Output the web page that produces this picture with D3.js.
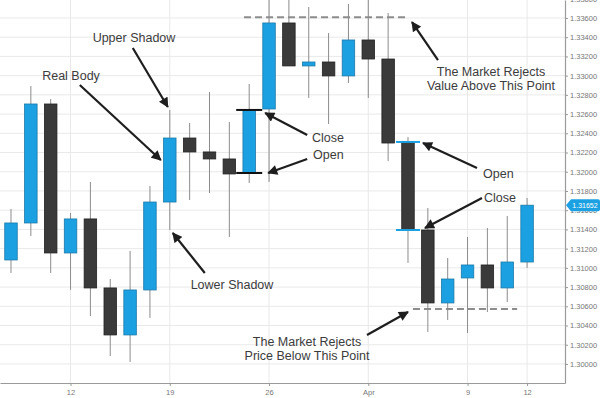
<!DOCTYPE html>
<html>
<head>
<meta charset="utf-8">
<script src="https://cdn.jsdelivr.net/npm/d3@7"></script>
<style>
  html, body { margin: 0; padding: 0; background: #fff; }
  svg { display: block; font-family: Arial, "Liberation Sans", sans-serif; }
</style>
</head>
<body>
<svg id="chart" width="600" height="398"></svg>
<script>
// daily candles, 7 Mar - 12 Apr
const dates = ["03-07", "03-08", "03-09", "03-12", "03-13", "03-14", "03-15", "03-16", "03-19", "03-20",
  "03-21", "03-22", "03-23", "03-26", "03-27", "03-28", "03-29", "03-30", "04-02", "04-03",
  "04-04", "04-05", "04-06", "04-09", "04-10", "04-11", "04-12"];
const opens = [1.31082, 1.31467, 1.32705, 1.31155, 1.31509, 1.30791, 1.30302, 1.3077, 1.31685, 1.32351,
  1.32206, 1.32133, 1.31987, 1.32653, 1.33548, 1.33101, 1.33142, 1.32997, 1.33371, 1.33173,
  1.3231, 1.31394, 1.30635, 1.30895, 1.3103, 1.30791, 1.31061];
const highs = [1.31613, 1.32892, 1.32757, 1.31571, 1.31894, 1.30884, 1.31176, 1.31852, 1.32643, 1.32507,
  1.3283, 1.32518, 1.32913, 1.3385, 1.3385, 1.33714, 1.33444, 1.33746, 1.3385, 1.33652,
  1.32362, 1.31623, 1.31103, 1.31321, 1.31415, 1.3154, 1.31727];
const lows = [1.30947, 1.31332, 1.30947, 1.3077, 1.30499, 1.30083, 1.30021, 1.30479, 1.31394, 1.31706,
  1.31779, 1.31321, 1.31883, 1.31894, 1.33101, 1.32768, 1.32497, 1.32924, 1.32768, 1.32112,
  1.31051, 1.30333, 1.30458, 1.30322, 1.30541, 1.30645, 1.30999];
const closes = [1.31467, 1.32705, 1.31155, 1.31509, 1.30791, 1.30302, 1.3077, 1.31685, 1.32351, 1.32206,
  1.32133, 1.31977, 1.32643, 1.33548, 1.33101, 1.33142, 1.32997, 1.33371, 1.33173, 1.32299,
  1.31394, 1.30635, 1.30884, 1.3103, 1.30791, 1.31061, 1.31652];

const xTickDates = ["03-12", "03-19", "03-26", "04-02", "04-09", "04-12"];
const xTickLabels = ["12", "19", "26", "Apr", "9", "12"];
const yTicks = [1.300, 1.302, 1.304, 1.306, 1.308, 1.310, 1.312, 1.314, 1.316, 1.318, 1.320,
  1.322, 1.324, 1.326, 1.328, 1.330, 1.332, 1.334, 1.336, 1.338];

// support / resistance levels (price, first and last candle index covered)
const levelPrices = [1.33608, 1.30572];
const levelFrom = [11.74, 20.25];
const levelTo = [19.95, 25.5];

const candles = dates.map((d, i) => ({ i, date: d, open: opens[i], high: highs[i], low: lows[i], close: closes[i] }));

const width = 600, height = 398;
const plotRight = 565, plotBottom = 383;
const blue = "#1ba1e2", dark = "#3a3a3a";

const svg = d3.select("#chart");
const x = d3.scaleLinear().domain([-0.554, 27.91]).range([0, plotRight]);
const y = d3.scaleLinear().domain([1.29802, 1.33787]).range([plotBottom, 0]);
const idx = (d) => dates.indexOf(d);

svg.append("defs").append("clipPath").attr("id", "plot")
  .append("rect").attr("x", 0).attr("y", 0).attr("width", plotRight).attr("height", plotBottom);

svg.select("defs").append("marker")
  .attr("id", "head").attr("viewBox", "0 0 10 10").attr("refX", 9).attr("refY", 5)
  .attr("markerWidth", 11).attr("markerHeight", 10).attr("markerUnits", "userSpaceOnUse")
  .attr("orient", "auto")
  .append("path").attr("d", "M0,0 L10,5 L0,10 z").attr("fill", "#1e1e1e");

// grid
const grid = svg.append("g");
grid.selectAll("line.h").data(yTicks).enter().append("line")
  .attr("x1", 0).attr("x2", plotRight).attr("y1", (d) => y(d)).attr("y2", (d) => y(d))
  .attr("stroke", "#e9e9e9").attr("stroke-width", 1);
grid.selectAll("line.v").data(xTickDates).enter().append("line")
  .attr("x1", (d) => x(idx(d))).attr("x2", (d) => x(idx(d))).attr("y1", 0).attr("y2", plotBottom)
  .attr("stroke", "#e9e9e9").attr("stroke-width", 1);

// axes
const yAxis = svg.append("g").attr("transform", `translate(${plotRight},0)`)
  .call(d3.axisRight(y).tickValues(yTicks).tickFormat(d3.format(".5f")).tickSize(3).tickSizeOuter(0));
const xAxis = svg.append("g").attr("transform", `translate(0,${plotBottom})`)
  .call(d3.axisBottom(x).tickValues(xTickDates.map(idx)).tickFormat((d, k) => xTickLabels[k]).tickSize(3).tickSizeOuter(0));
[yAxis, xAxis].forEach((g) => {
  g.select(".domain").attr("stroke", "#9a9a9a").attr("stroke-width", 1.2);
  g.selectAll(".tick line").attr("stroke", "#9a9a9a");
  g.selectAll(".tick text").attr("fill", "#777").style("font-size", "7.5px").style("font-family", "Arial, 'Liberation Sans', sans-serif");
});
yAxis.selectAll(".tick text").attr("x", 5);
xAxis.selectAll(".tick text").attr("y", 7);

const plot = svg.append("g").attr("clip-path", "url(#plot)");

// levels
plot.selectAll("line.level").data(levelPrices).enter().append("line")
  .attr("x1", (d, k) => x(levelFrom[k])).attr("x2", (d, k) => x(levelTo[k]))
  .attr("y1", (d) => y(d)).attr("y2", (d) => y(d))
  .attr("stroke", "#8d8d8d").attr("stroke-width", 2).attr("stroke-dasharray", "7,4");

// wicks
plot.selectAll("line.wick").data(candles).enter().append("line")
  .attr("x1", (d) => x(d.i)).attr("x2", (d) => x(d.i))
  .attr("y1", (d) => y(d.high)).attr("y2", (d) => y(d.low))
  .attr("stroke", "#8c8c8c").attr("stroke-width", 1);

// bodies
const bodyW = 12.5;
plot.selectAll("rect.body").data(candles).enter().append("rect")
  .attr("x", (d) => x(d.i) - bodyW / 2).attr("width", bodyW)
  .attr("y", (d) => y(Math.max(d.open, d.close)))
  .attr("height", (d) => Math.max(1, Math.abs(y(d.open) - y(d.close))))
  .attr("fill", (d) => (d.close >= d.open ? blue : dark))
  .attr("stroke", (d) => (d.close >= d.open ? "#1c79a8" : "#222"))
  .attr("stroke-width", 0.8);

// open / close markers on two candles
const markCandles = [12, 20];
const markColors = ["#111", blue];
markCandles.forEach((ci, k) => {
  const c = candles[ci];
  const half = k === 0 ? 13 : 12;
  plot.selectAll(null).data([c.open, c.close]).enter().append("line")
    .attr("x1", x(ci) - half).attr("x2", x(ci) + half)
    .attr("y1", (v) => y(v)).attr("y2", (v) => y(v))
    .attr("stroke", markColors[k]).attr("stroke-width", 2);
});

// annotations
const notes = [
  { lines: ["Upper Shadow"], tx: 134, ty: 41.5, anchor: "middle", tip: { i: 8, v: 1.32674, dx: -2 }, tail: [-35, -59] },
  { lines: ["Real Body"], tx: 71, ty: 79.5, anchor: "middle", tip: { i: 8, v: 1.32122, dx: -9 }, tail: [-81, -75] },
  { lines: ["Lower Shadow"], tx: 232, ty: 288.5, anchor: "middle", tip: { i: 8, v: 1.31363, dx: 3 }, tail: [32, 40] },
  { lines: ["Close"], tx: 312, ty: 141.5, anchor: "start", tip: { i: 12, v: 1.32611, dx: 16 }, tail: [42, 22] },
  { lines: ["Open"], tx: 313, ty: 158.5, anchor: "start", tip: { i: 12, v: 1.31987, dx: 19 }, tail: [39, -14] },
  { lines: ["Open"], tx: 483, ty: 177.5, anchor: "start", tip: { i: 20, v: 1.32299, dx: 15 }, tail: [54, 25] },
  { lines: ["Close"], tx: 484, ty: 201.5, anchor: "start", tip: { i: 20, v: 1.31415, dx: 17 }, tail: [57, -30] },
  { lines: ["The Market Rejects", "Value Above This Point"], tx: 491, ty: 75.5, anchor: "middle", tip: { i: 20, v: 1.33558, dx: 4 }, tail: [26, 38] },
  { lines: ["The Market Rejects", "Price Below This Point"], tx: 307, ty: 345.5, anchor: "middle", tip: { i: 20, v: 1.30541, dx: 0 }, tail: [-41, 23] },
];

const ann = svg.append("g");
notes.forEach((n) => {
  const tx = x(n.tip.i) + n.tip.dx, ty = y(n.tip.v);
  ann.append("line")
    .attr("x1", tx + n.tail[0]).attr("y1", ty + n.tail[1]).attr("x2", tx).attr("y2", ty)
    .attr("stroke", "#1e1e1e").attr("stroke-width", 2.2).attr("marker-end", "url(#head)");
  const t = ann.append("text").attr("text-anchor", n.anchor).attr("fill", "#3c3c3c").style("font-size", "12.5px");
  n.lines.forEach((line, k) => {
    t.append("tspan").attr("x", n.tx).attr("y", n.ty + k * 14).text(line);
  });
});

// last price badge
const last = candles[candles.length - 1];
const by = y(last.close);
svg.append("path")
  .attr("d", `M${plotRight + 1},${by} L${plotRight + 6},${by - 6} L${plotRight + 33},${by - 6} Q${plotRight + 35},${by - 6} ${plotRight + 35},${by - 4} L${plotRight + 35},${by + 4} Q${plotRight + 35},${by + 6} ${plotRight + 33},${by + 6} L${plotRight + 6},${by + 6} Z`)
  .attr("fill", blue);
svg.append("text").attr("x", plotRight + 20).attr("y", by + 2.5).attr("text-anchor", "middle")
  .attr("fill", "#fff").style("font-size", "7px").text(d3.format(".5f")(last.close));
</script>
</body>
</html>
